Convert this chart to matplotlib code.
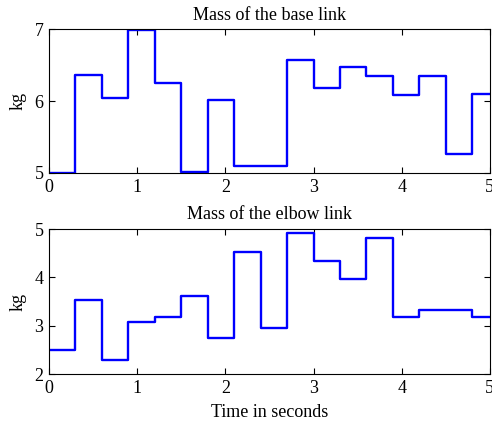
import matplotlib.pyplot as plt
import numpy as np

plt.rcParams['font.family'] = ['Liberation Serif', 'DejaVu Serif']

# switching times (s) and the mass held over each interval
t_switch = [0.0, 0.3, 0.6, 0.9, 1.2, 1.5, 1.8, 2.1, 2.4, 2.7,
            3.0, 3.3, 3.6, 3.9, 4.2, 4.5, 4.8]
base_mass = [5.0, 6.37, 6.05, 6.99, 6.26, 5.02, 6.02, 5.10, 5.10, 6.58,
             6.18, 6.47, 6.35, 6.08, 6.35, 5.27, 6.10]
elbow_mass = [2.50, 3.54, 2.30, 3.08, 3.18, 3.62, 2.74, 4.52, 2.96, 4.92,
              4.34, 3.96, 4.81, 3.19, 3.32, 3.32, 3.19]
t_end = 5.0

fig = plt.figure(figsize=(4.92, 4.26), dpi=100)
ax1 = fig.add_axes([0.0996, 0.594, 0.896, 0.337])
ax2 = fig.add_axes([0.0996, 0.122, 0.896, 0.340])

tt = np.append(t_switch, t_end)

for ax, m, title, ylim, yt in [(ax1, base_mass, 'Mass of the base link', (5, 7), [5, 6, 7]),
                               (ax2, elbow_mass, 'Mass of the elbow link', (2, 5), [2, 3, 4, 5])]:
    ax.step(tt, np.append(m, m[-1]), where='post', color='#0000ff', lw=1.7)
    ax.set_xlim(0, 5)
    ax.set_ylim(*ylim)
    ax.set_yticks(yt)
    ax.set_xticks([0, 1, 2, 3, 4, 5])
    ax.tick_params(direction='in', top=True, right=True, labelsize=13,
                   length=4, width=0.8, pad=4)
    ax.set_ylabel('kg', fontsize=13, labelpad=6)
    ax.set_title(title, fontsize=13, pad=7)
    for s in ax.spines.values():
        s.set_linewidth(0.8)

ax2.set_xlabel('Time in seconds', fontsize=13, labelpad=5)

fig.savefig('out.png', dpi=100)
